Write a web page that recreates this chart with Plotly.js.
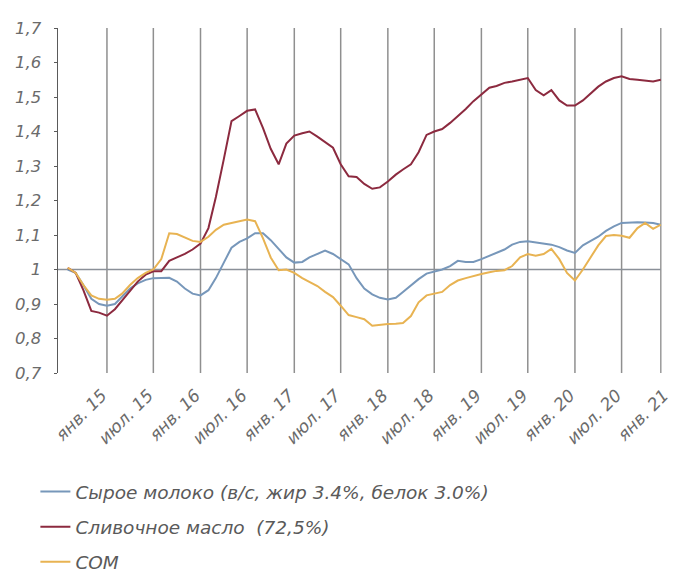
<!DOCTYPE html>
<html>
<head>
<meta charset="utf-8">
<script src="https://cdn.plot.ly/plotly-3.0.1.min.js"></script>
<style>html,body{margin:0;padding:0;background:#fff;}#chart{width:675px;height:573px;}</style>
</head>
<body>
<div id="chart"></div>
<script>
// Monthly observations, Aug 2014 .. Dec 2020
const startYear = 2014, startMonth = 8;

const seriesNames = [
  "Сырое молоко (в/с, жир 3.4%, белок 3.0%)",
  "Сливочное масло  (72,5%)",
  "СОМ"
];

const rawMilk = [
  1.0, 0.99, 0.955, 0.915, 0.90,
  0.895, 0.90, 0.92, 0.945, 0.96, 0.97, 0.975, 0.976, 0.976, 0.965, 0.945, 0.93,
  0.925, 0.94, 0.975, 1.02, 1.063, 1.08, 1.09, 1.105, 1.105, 1.085, 1.06, 1.035,
  1.02, 1.022, 1.035, 1.045, 1.055, 1.045, 1.03, 1.015, 0.975, 0.945, 0.928, 0.918,
  0.913, 0.918, 0.935, 0.955, 0.972, 0.988, 0.995, 1.0, 1.01, 1.025, 1.022, 1.022,
  1.03, 1.04, 1.05, 1.058, 1.072, 1.08, 1.082, 1.079, 1.076, 1.072, 1.065, 1.055,
  1.048, 1.07, 1.082, 1.095, 1.112, 1.125, 1.135, 1.137, 1.137, 1.136, 1.135, 1.13
];

const butter = [
  1.005, 0.99, 0.94, 0.88, 0.875,
  0.866, 0.885, 0.91, 0.935, 0.965, 0.985, 0.995, 0.995, 1.025, 1.035, 1.045, 1.058,
  1.075, 1.12, 1.21, 1.32, 1.43, 1.445, 1.46, 1.464, 1.41, 1.35, 1.305, 1.365,
  1.388, 1.395, 1.40, 1.385, 1.37, 1.353, 1.305, 1.27, 1.268, 1.248, 1.234, 1.238,
  1.255, 1.275, 1.29, 1.305, 1.34, 1.39, 1.40, 1.407, 1.425, 1.445, 1.465, 1.488,
  1.507, 1.527, 1.532, 1.541, 1.545, 1.55, 1.555, 1.52, 1.505, 1.52, 1.49, 1.475,
  1.475, 1.49, 1.51, 1.53, 1.545, 1.555, 1.56, 1.552, 1.55, 1.548, 1.545, 1.55
];

const smp = [
  1.005, 0.99, 0.955, 0.925, 0.915,
  0.912, 0.915, 0.93, 0.955, 0.975, 0.99, 1.0, 1.03, 1.105, 1.103, 1.092, 1.083,
  1.08, 1.095, 1.115, 1.13, 1.135, 1.14, 1.145, 1.14, 1.09, 1.035, 0.998, 1.0,
  0.99, 0.975, 0.965, 0.952, 0.935, 0.92, 0.895, 0.868, 0.862, 0.856, 0.837, 0.84,
  0.842, 0.843, 0.845, 0.865, 0.905, 0.925, 0.93, 0.935, 0.955, 0.968, 0.975, 0.982,
  0.987, 0.992, 0.996, 0.998, 1.01, 1.035, 1.045, 1.04, 1.045, 1.06, 1.03, 0.99,
  0.968, 1.0, 1.035, 1.07, 1.097, 1.1, 1.098, 1.092, 1.12, 1.135, 1.118, 1.13
];

const tickDates = ["2015-01-01","2015-07-01","2016-01-01","2016-07-01","2017-01-01","2017-07-01",
  "2018-01-01","2018-07-01","2019-01-01","2019-07-01","2020-01-01","2020-07-01","2021-01-01"];
const tickLabels = ["янв. 15","июл. 15","янв. 16","июл. 16","янв. 17","июл. 17",
  "янв. 18","июл. 18","янв. 19","июл. 19","янв. 20","июл. 20","янв. 21"];

const colors = ["#7797ba", "#8c2a3f", "#e8b352"];

// build month dates
const dates = [];
for (let i = 0; i < rawMilk.length; i++) {
  const mm = startMonth - 1 + i;
  const y = startYear + Math.floor(mm / 12);
  const m = (mm % 12) + 1;
  dates.push(y + "-" + String(m).padStart(2, "0") + "-01");
}
const lastDate = dates[dates.length - 1];
const xRange = ["2014-06-24", "2021-01-02"];

const labelFont = "DejaVu Sans, Verdana, sans-serif";

const values = [rawMilk, butter, smp];
const traces = values.map((v, k) => ({
  type: "scatter", mode: "lines", x: dates, y: v, name: seriesNames[k],
  legendgroup: "g" + k,
  line: {color: colors[k], width: 2}, hoverinfo: "skip"
}));

const shapes = [];
for (let i = 0; i < tickDates.length - 1; i++) {
  shapes.push({type: "line", layer: "below", xref: "x", yref: "paper",
    x0: tickDates[i], x1: tickDates[i], y0: 0, y1: 1,
    line: {color: "#8f8f8f", width: 1.5}});
}
shapes.push({type: "line", layer: "below", xref: "x", yref: "paper",
  x0: lastDate, x1: lastDate, y0: 0, y1: 1, line: {color: "#9a9a9a", width: 1.5}});
shapes.push({type: "line", layer: "below", xref: "x", yref: "y",
  x0: xRange[0], x1: lastDate, y0: 1, y1: 1, line: {color: "#8a9098", width: 1.5}});

const layout = {
  width: 675, height: 573,
  margin: {l: 58, r: 6, t: 28, b: 200, autoexpand: false},
  paper_bgcolor: "#ffffff", plot_bgcolor: "#ffffff",
  separators: ", ",
  font: {family: labelFont, size: 16, color: "#6b6b6b"},
  showlegend: true,
  legend: {
    x: -0.037, y: -0.29,
    xanchor: "left", yanchor: "top", orientation: "v",
    font: {family: labelFont, size: 18.5, color: "#5a5a5a", style: "italic"},
    tracegroupgap: 8, bgcolor: "rgba(0,0,0,0)"
  },
  xaxis: {
    type: "date", range: xRange, showgrid: false, zeroline: false, showline: false,
    tickmode: "array", tickvals: tickDates, ticktext: tickLabels, tickangle: -45,
    ticks: "", ticklabelstandoff: 8, ticklabelshift: -5, ticklabeloverflow: "allow",
    tickfont: {family: labelFont, size: 17, color: "#6b6b6b", style: "italic"},
    automargin: false
  },
  yaxis: {
    range: [0.7, 1.7], tickmode: "array",
    tickvals: [0.7, 0.8, 0.9, 1.0, 1.1, 1.2, 1.3, 1.4, 1.5, 1.6, 1.7],
    showgrid: false, zeroline: false, showline: true, linecolor: "#5a5a5a", linewidth: 1.5,
    ticks: "outside", ticklen: 3, tickcolor: "#5a5a5a", ticklabelstandoff: 9,
    tickfont: {family: labelFont, size: 16.5, color: "#6b6b6b", style: "italic"},
    automargin: false
  },
  shapes: shapes
};

Plotly.newPlot("chart", traces, layout, {staticPlot: true});
</script>
</body>
</html>
